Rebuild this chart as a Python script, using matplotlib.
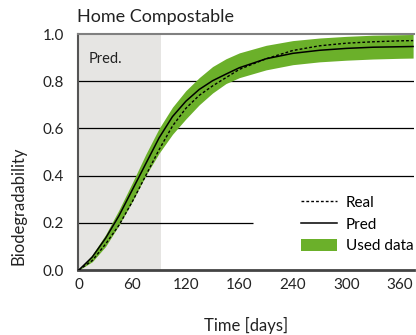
import matplotlib
matplotlib.use('Agg')
import matplotlib.pyplot as plt
from matplotlib.patches import Patch
from matplotlib.lines import Line2D

# ── data ───────────────────────────────────────────────────────────────────
days = [0, 15, 30, 45, 60, 75, 90, 105, 120, 135, 150, 165, 180,
        210, 240, 270, 300, 330, 360, 375]
pred = [0.0, 0.055, 0.135, 0.23, 0.34, 0.45, 0.56, 0.65, 0.715, 0.765,
        0.802, 0.83, 0.857, 0.895, 0.918, 0.931, 0.939, 0.944, 0.946, 0.947]
real = [0.0, 0.04, 0.11, 0.19, 0.29, 0.40, 0.51, 0.61, 0.685, 0.74,
        0.78, 0.815, 0.85, 0.895, 0.93, 0.95, 0.961, 0.967, 0.971, 0.972]
upper = [0.0, 0.065, 0.15, 0.255, 0.37, 0.49, 0.60, 0.69, 0.76, 0.815,
         0.862, 0.895, 0.92, 0.952, 0.972, 0.983, 0.99, 0.995, 0.997, 0.998]
lower = [0.0, 0.035, 0.10, 0.19, 0.29, 0.40, 0.495, 0.575, 0.64, 0.70,
         0.75, 0.79, 0.815, 0.848, 0.87, 0.882, 0.889, 0.894, 0.897, 0.898]

pred_window = (0, 92)
x_ticks = [0, 60, 120, 180, 240, 300, 360]
x_tick_labels = ['0', '60', '120', '160', '240', '300', '360']
y_ticks = [0.0, 0.2, 0.4, 0.6, 0.8, 1.0]
grid_full = [0.4, 0.6, 0.8]
grid_short = 0.2

GREEN = '#6bb02a'
GREY_BG = '#e6e5e3'

plt.rcParams['font.family'] = ['Lato', 'DejaVu Sans']

fig = plt.figure(figsize=(4.16, 3.35), dpi=100)
ax = fig.add_axes([78 / 416, 1 - 270 / 335, 336 / 416, 236 / 335])

ax.set_xlim(-1, 376)
ax.set_ylim(0, 1.0)

ax.axvspan(*pred_window, color=GREY_BG, lw=0, zorder=0)
for y in grid_full:
    ax.axhline(y, color='black', lw=0.9, zorder=1)
ax.hlines(grid_short, -1, 195, color='black', lw=0.9, zorder=1)

ax.fill_between(days, lower, upper, color=GREEN, lw=0, zorder=2)
ax.plot(days, real, color='black', lw=1.0, ls=(0, (2, 1.5)), zorder=3)
ax.plot(days, pred, color='black', lw=1.1, zorder=4)

ax.text(11, 0.893, 'Pred.', fontsize=10.5, va='center', ha='left', color='#222222')

ax.spines['right'].set_visible(False)
ax.spines['top'].set_color('#808080')
ax.spines['top'].set_linewidth(1.5)
ax.spines['left'].set_color('#555555')
ax.spines['left'].set_linewidth(1.5)
ax.spines['bottom'].set_color('#444444')
ax.spines['bottom'].set_linewidth(2)

ax.set_xticks(x_ticks)
ax.set_xticklabels(x_tick_labels)
ax.set_yticks(y_ticks)
ax.set_yticklabels([f'{v:.1f}' for v in y_ticks])
ax.tick_params(axis='both', length=0, labelsize=11, colors='#222222')
ax.tick_params(axis='x', pad=6)
ax.tick_params(axis='y', pad=10)

ax.set_xlabel('Time [days]', fontsize=12, labelpad=18, color='#222222')
fig.text(19 / 416, 1 - 206 / 335, 'Biodegradability', rotation=90,
         fontsize=12, ha='center', va='center', color='#222222')
fig.text(77 / 416, 1 - 17 / 335, 'Home Compostable', fontsize=13,
         ha='left', va='center', color='#222222')

handles = [
    Line2D([], [], color='black', lw=1.0, ls=(0, (2, 1.5))),
    Line2D([], [], color='black', lw=1.1),
    Patch(facecolor=GREEN, edgecolor='none'),
]
ax.legend(handles, ['Real', 'Pred', 'Used data'], loc='upper left',
          bbox_to_anchor=(0.665, 0.315), frameon=False, fontsize=11,
          handlelength=2.3, handleheight=0.9, handletextpad=0.6,
          labelspacing=0.45, borderpad=0, borderaxespad=0)

fig.savefig('out.png', dpi=100)
